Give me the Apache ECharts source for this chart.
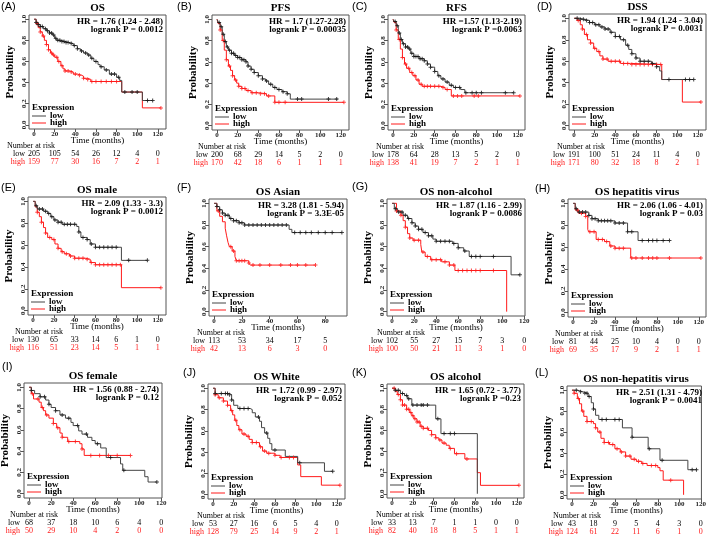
<!DOCTYPE html>
<html><head><meta charset="utf-8">
<script src="https://cdn.jsdelivr.net/npm/echarts@6/dist/echarts.min.js"></script>
<style>html,body{margin:0;padding:0;background:#fff}#c{width:709px;height:537px}</style>
</head><body><div id="c"></div>
<script>
// ---------------- DATA ----------------
const panelLabels = ['(A)','(B)','(C)','(D)','(E)','(F)','(G)','(H)','(I)','(J)','(K)','(L)'];
const titles = ['OS','PFS','RFS','DSS','OS male','OS Asian','OS non-alcohol','OS hepatitis virus','OS female','OS White','OS alcohol','OS non-hepatitis virus'];
const hrTexts = ['HR = 1.76 (1.24 - 2.48)','HR = 1.7 (1.27-2.28)','HR =1.57 (1.13-2.19)','HR = 1.94 (1.24 - 3.04)','HR = 2.09 (1.33 - 3.3)','HR = 3.28 (1.81 - 5.94)','HR = 1.87 (1.16 - 2.99)','HR = 2.06 (1.06 - 4.01)','HR = 1.56 (0.88 - 2.74)','HR = 1.72 (0.99 - 2.97)','HR = 1.65 (0.72 - 3.77)','HR = 2.51 (1.31 - 4.79)'];
const pTexts = ['logrank P = 0.0012','logrank P = 0.00035','logrank P =0.0063','logrank P = 0.0031','logrank P = 0.0012','logrank P = 3.3E-05','logrank P = 0.0086','logrank P = 0.03','logrank P = 0.12','logrank P = 0.052','logrank P =0.23','logrank P = 0.0041'];
const timeTicks = [0,20,40,60,80,100,120];
const timeTicksAsian = [0,20,40,60,80];
const probTicks = [0,0.2,0.4,0.6,0.8,1.0];
const maxFollowUp = [123,123,122,123,123,92,116,122,116,123,122,116];

const riskLow = [
  [205,105,54,26,12,4,0],[200,68,29,14,5,2,0],[178,64,28,13,5,2,0],[191,100,51,24,11,4,0],
  [130,65,33,14,6,1,0],[113,53,34,17,5],[102,55,27,15,7,3,0],[81,44,25,10,4,0,0],
  [68,37,18,10,6,4,0],[53,27,16,6,5,4,0],[33,13,7,1,1,0,0],[43,18,9,5,4,3,0]];
const riskHigh = [
  [159,77,30,16,7,2,1],[170,42,18,6,1,1,1],[138,41,19,7,2,1,1],[171,80,32,18,8,2,1],
  [116,51,23,14,5,1,1],[42,13,6,3,0],[100,50,21,11,3,1,0],[69,35,17,9,2,1,1],
  [50,29,10,4,2,0,0],[128,79,25,14,9,2,1],[82,40,18,8,5,1,1],[124,61,22,11,6,1,0]];

// KM step curves: [time, survival] at each drop
const lowA = [[0,1],[2,0.97],[4,0.95],[6,0.93],[9,0.91],[12,0.89],[15,0.87],[18,0.85],[20,0.82],[22,0.8],[26,0.79],[30,0.78],[34,0.77],[38,0.75],[42,0.72],[45,0.7],[48,0.68],[52,0.66],[55,0.63],[58,0.6],[62,0.57],[64,0.55],[68,0.52],[73,0.48],[80,0.45],[83,0.42],[85,0.31],[105,0.23],[115,0.23]];
const highA = [[0,1],[2,0.96],[4,0.92],[6,0.88],[8,0.84],[10,0.8],[12,0.76],[14,0.71],[16,0.68],[18,0.66],[20,0.64],[23,0.6],[26,0.56],[28,0.53],[30,0.51],[34,0.5],[38,0.48],[42,0.47],[46,0.46],[48,0.44],[52,0.43],[55,0.41],[85,0.31],[105,0.16],[123,0.16]];
const lowB = [[0,1],[1,0.97],[3,0.93],[5,0.86],[7,0.79],[9,0.74],[11,0.71],[14,0.68],[17,0.66],[20,0.64],[24,0.62],[28,0.6],[30,0.56],[33,0.53],[36,0.5],[40,0.47],[44,0.44],[47,0.42],[50,0.39],[54,0.36],[58,0.34],[63,0.32],[68,0.3],[71,0.25],[117,0.25]];
const highB = [[0,1],[1,0.96],[3,0.9],[5,0.8],[7,0.71],[9,0.62],[11,0.56],[13,0.52],[15,0.47],[17,0.43],[19,0.4],[21,0.37],[24,0.35],[28,0.33],[33,0.31],[40,0.3],[48,0.28],[56,0.22],[123,0.22]];
const lowC = [[0,1],[1,0.98],[3,0.94],[5,0.87],[7,0.81],[9,0.77],[12,0.74],[15,0.72],[17,0.68],[20,0.65],[25,0.63],[30,0.61],[33,0.58],[36,0.55],[40,0.51],[43,0.47],[46,0.44],[50,0.41],[54,0.38],[58,0.36],[65,0.34],[69,0.31],[116,0.31]];
const highC = [[0,1],[1,0.97],[3,0.9],[5,0.81],[7,0.72],[9,0.64],[11,0.58],[13,0.54],[16,0.5],[19,0.47],[22,0.43],[25,0.39],[28,0.37],[46,0.36],[50,0.34],[56,0.28],[122,0.28]];
const lowD = [[0,1],[5,0.99],[10,0.98],[15,0.96],[20,0.94],[25,0.92],[30,0.9],[35,0.87],[40,0.83],[45,0.8],[50,0.75],[53,0.71],[56,0.67],[60,0.63],[64,0.6],[75,0.58],[80,0.55],[83,0.51],[85,0.43],[116,0.43]];
const highD = [[0,1],[3,0.98],[6,0.94],[8,0.9],[10,0.85],[13,0.8],[16,0.77],[19,0.72],[22,0.69],[25,0.65],[28,0.62],[33,0.6],[45,0.58],[55,0.57],[85,0.43],[105,0.22],[123,0.22]];
const lowE = [[0,1],[2,0.96],[4,0.93],[10,0.91],[14,0.89],[17,0.86],[20,0.83],[24,0.81],[28,0.79],[42,0.77],[44,0.72],[46,0.67],[52,0.65],[55,0.61],[60,0.58],[85,0.46],[110,0.46]];
const highE = [[0,1],[2,0.95],[4,0.9],[6,0.86],[8,0.81],[10,0.76],[12,0.71],[14,0.67],[18,0.65],[21,0.61],[24,0.57],[27,0.54],[30,0.52],[35,0.5],[40,0.48],[50,0.47],[55,0.44],[60,0.42],[85,0.21],[123,0.21]];
const lowF = [[0,1],[2,0.97],[4,0.94],[6,0.91],[8,0.89],[11,0.86],[14,0.84],[18,0.82],[22,0.8],[54,0.76],[56,0.73],[92,0.73]];
const highF = [[0,1],[2,0.93],[4,0.88],[6,0.83],[8,0.77],[9,0.7],[10,0.64],[11,0.6],[13,0.56],[15,0.51],[16,0.47],[25,0.45],[26,0.43],[73,0.43]];
const lowG = [[0,1],[2,0.95],[5,0.92],[10,0.89],[14,0.86],[18,0.82],[21,0.79],[24,0.76],[28,0.73],[33,0.7],[37,0.67],[40,0.65],[55,0.63],[60,0.59],[65,0.56],[70,0.51],[108,0.34],[116,0.34]];
const highG = [[0,1],[4,0.93],[8,0.89],[10,0.84],[12,0.78],[14,0.72],[16,0.68],[19,0.66],[26,0.62],[27,0.55],[30,0.51],[35,0.48],[45,0.46],[52,0.43],[57,0.38],[104,0]];
const lowH = [[0,1],[2,0.95],[4,0.92],[15,0.89],[18,0.86],[24,0.84],[40,0.82],[52,0.74],[62,0.66],[92,0.66]];
const highH = [[0,1],[2,0.94],[5,0.91],[12,0.88],[14,0.76],[15,0.74],[22,0.67],[30,0.65],[35,0.61],[40,0.59],[55,0.5],[122,0.5]];
const lowI = [[0,1],[2,0.97],[5,0.94],[10,0.91],[15,0.88],[18,0.84],[20,0.81],[24,0.78],[28,0.74],[33,0.71],[38,0.67],[40,0.64],[45,0.59],[48,0.56],[53,0.53],[57,0.5],[60,0.47],[65,0.43],[70,0.34],[83,0.28],[85,0.22],[105,0.16],[108,0.11],[116,0.11]];
const highI = [[0,1],[2,0.94],[4,0.89],[9,0.86],[11,0.81],[13,0.78],[15,0.74],[18,0.71],[22,0.66],[25,0.62],[28,0.57],[30,0.53],[35,0.49],[46,0.47],[48,0.42],[50,0.36],[92,0.36]];
const lowJ = [[0,1],[2,0.95],[16,0.94],[18,0.89],[20,0.84],[24,0.81],[36,0.8],[38,0.77],[41,0.73],[45,0.69],[47,0.63],[50,0.58],[53,0.53],[55,0.48],[57,0.42],[70,0.36],[82,0.3],[108,0.22],[116,0.22]];
const highJ = [[0,1],[2,0.94],[5,0.91],[10,0.88],[14,0.84],[17,0.79],[19,0.75],[21,0.7],[23,0.65],[25,0.61],[28,0.57],[32,0.55],[35,0.52],[38,0.49],[45,0.45],[48,0.41],[52,0.39],[60,0.37],[65,0.35],[82,0.28],[85,0.17],[105,0.09],[123,0.09]];
const lowK = [[0,1],[3,0.98],[8,0.95],[12,0.93],[15,0.9],[19,0.84],[42,0.71],[47,0.57],[82,0]];
const highK = [[0,1],[3,0.97],[5,0.94],[8,0.89],[10,0.84],[14,0.8],[17,0.77],[19,0.74],[21,0.71],[24,0.68],[27,0.64],[30,0.62],[35,0.6],[38,0.56],[42,0.53],[45,0.51],[48,0.48],[52,0.46],[55,0.43],[60,0.38],[70,0.33],[82,0.2],[85,0.08],[122,0.08]];
const lowL = [[0,1],[5,0.985],[10,0.97],[15,0.94],[18,0.88],[20,0.82],[22,0.76],[25,0.72],[47,0.64],[56,0.55],[71,0.44],[82,0.33],[108,0.24],[116,0.24]];
const highL = [[0,1],[2,0.97],[5,0.92],[7,0.87],[9,0.8],[11,0.75],[14,0.7],[20,0.68],[22,0.64],[24,0.6],[27,0.54],[30,0.5],[35,0.48],[40,0.44],[45,0.41],[50,0.37],[55,0.34],[60,0.32],[65,0.3],[70,0.28],[80,0.26],[82,0.23],[85,0.14],[104,0]];

// censoring times
const censLowA = [2,4,6,8,11,13,15,17,19,21,23,25,27,29,31,33,36,39,42,46,50,53,56,60,65,70,75,78,82,88,95,100,110,115];
const censHighA = [3,6,9,12,14,17,19,22,24,27,30,33,36,40,44,48,52,56,60,65,70,75,80,123];
const censLowB = [2,4,6,8,10,12,14,16,18,20,22,24,26,28,30,33,36,40,44,48,52,56,60,64,68,78,82,108,116];
const censHighB = [3,6,9,12,15,18,21,24,27,30,34,38,42,46,50,56,60,66,123];
const censLowC = [2,4,6,8,10,12,14,16,18,20,22,24,26,28,30,33,36,40,44,48,52,56,60,64,70,76,80,85,108,116];
const censHighC = [3,6,9,12,15,18,21,24,27,30,33,36,40,44,48,52,58,62,66,78,82,122];
const censLowD = [3,6,9,12,15,18,21,24,27,30,33,36,40,44,48,52,56,60,64,68,72,76,80,92,108,112,116];
const censHighD = [4,8,12,16,20,24,28,32,36,40,44,48,52,56,60,64,68,72,76,80,84,123];
const censLowE = [3,6,9,12,15,18,21,24,27,30,33,36,40,44,48,52,56,60,64,68,72,76,80,92,110];
const censHighE = [4,8,12,16,20,24,28,32,36,40,44,48,52,56,60,64,68,72,76,80,84,123];
const censLowF = [2,4,6,8,10,12,14,16,18,20,22,25,28,31,34,37,40,43,46,49,52,58,62,66,70,75,80,85,92];
const censHighF = [3,12,14,16,18,20,22,25,28,33,40,48,55,60,66,73];
const censLowG = [3,6,9,12,15,18,21,24,27,30,33,36,40,44,48,52,56,60,66,72,76,80,92,116];
const censHighG = [4,8,12,16,20,24,28,32,36,40,44,48,52,56,60,64,68,72,76,80,92];
const censLowH = [3,6,9,12,15,18,21,24,27,30,33,36,40,44,48,52,56,66,72,76,80,86,92];
const censHighH = [4,8,12,16,20,24,28,32,36,40,44,48,56,60,66,72,76,80,92,122];
const censLowI = [2,10,14,18,24,30,36,44,52,62,74,86,116];
const censHighI = [3,8,12,16,22,26,30,36,42,48,56,64,72,80,92];
const censLowJ = [2,8,12,14,16,18,26,30,34,44,52,60,84,116];
const censHighJ = [2,6,10,14,18,22,26,30,34,38,42,46,50,54,60,66,74,78,123];
const censLowK = [3,6,10,14,16,20,24,28,30,34,44,50,56,60];
const censHighK = [2,6,8,10,12,14,16,18,20,22,24,26,28,30,34,38,42,46,50,56,62,72,122];
const censLowL = [4,8,12,14,16,20,28,32,40,44,56,72,84,112,116];
const censHighL = [2,6,10,14,18,22,26,30,34,38,42,46,50,54,58,62,66,74,78,92];

const lowCurves = [lowA,lowB,lowC,lowD,lowE,lowF,lowG,lowH,lowI,lowJ,lowK,lowL];
const highCurves = [highA,highB,highC,highD,highE,highF,highG,highH,highI,highJ,highK,highL];
const lowCens = [censLowA,censLowB,censLowC,censLowD,censLowE,censLowF,censLowG,censLowH,censLowI,censLowJ,censLowK,censLowL];
const highCens = [censHighA,censHighB,censHighC,censHighD,censHighE,censHighF,censHighG,censHighH,censHighI,censHighJ,censHighK,censHighL];

// ---------------- LAYOUT ----------------
// plot box [left, top, width, height]
const boxes = [
  [29,15,137,114],[212,15,137,115],[388,15,137,115],[569,14,137,116],
  [28,197,138,118],[209,199,138,117],[387,199,138,117],[568,199,138,118],
  [24,383,138,115],[208,384,137,115],[387,384,137,114],[567,386,138,113]];
const labelPos = [[1,7],[177,7],[352,7],[537,7],[1,188],[177,188],[352,187],[535,189],[2,367],[183,373],[352,373],[535,373]];
const narLeft = [7,198,376,557,15,197,377,555,10,197,376,553];

const SERIF = '"Liberation Serif","Times New Roman",serif';
const SANS = '"Liberation Sans",Arial,sans-serif';
const RED = '#ff1a1a';
const LOWC = '#444';
const PLUS = 'path://M3,0H5V3H8V5H5V8H3V5H0V3H3Z';

function survAt(curve, t) {
  let s = curve[0][1];
  for (const [x, y] of curve) { if (x <= t) s = y; else break; }
  return s;
}
function txt(x, y, text, font, fill, align, valign, rot) {
  return { type: 'text', x, y, rotation: rot || 0, silent: true, z: 100,
    style: { text, font, fill: fill || '#000', align: align || 'left', textAlign: align || 'left',
      verticalAlign: valign || 'middle', textVerticalAlign: valign || 'middle' } };
}

const grids = [], xAxes = [], yAxes = [], series = [], graphics = [];
boxes.forEach((b, i) => {
  const [l, t, w, h] = b;
  const bottom = t + h;
  const maxT = maxFollowUp[i];
  const xmin = -0.04 * maxT, xmax = 1.04 * maxT;
  const ticks = i === 5 ? timeTicksAsian : timeTicks;
  grids.push({ left: l, top: t, width: w, height: h, show: true, borderColor: '#555', borderWidth: 1, backgroundColor: 'transparent' });
  xAxes.push({ gridIndex: i, type: 'value', min: xmin, max: xmax, position: 'bottom',
    axisLine: { show: false, onZero: false }, splitLine: { show: false },
    axisTick: { show: true, length: 3, customValues: ticks, lineStyle: { color: '#555' } },
    axisLabel: { customValues: ticks, fontSize: 7, fontWeight: 'bold', fontFamily: SERIF, color: '#222', margin: 1.5 } });
  const riskAxis = (counts, color, rowY) => ({ gridIndex: i, type: 'value', min: xmin, max: xmax, position: 'bottom',
    offset: rowY - bottom - 4.5, axisLine: { show: false, onZero: false }, axisTick: { show: false }, splitLine: { show: false },
    axisLabel: { customValues: ticks, margin: 0, fontSize: 8, fontFamily: SERIF, color,
      formatter: v => String(counts[ticks.indexOf(v)]) } });
  const lowY = bottom + 25, highY = bottom + 33;
  xAxes.push(riskAxis(riskLow[i], '#000', lowY));
  xAxes.push(riskAxis(riskHigh[i], RED, highY));
  yAxes.push({ gridIndex: i, type: 'value', min: -0.04, max: 1.04,
    axisLine: { show: false, onZero: false }, splitLine: { show: false },
    axisTick: { show: true, length: 3, customValues: probTicks, lineStyle: { color: '#555' } },
    axisLabel: { customValues: probTicks, rotate: 90, fontSize: 7, fontWeight: 'bold', fontFamily: SERIF, color: '#222', margin: 1.5,
      formatter: v => v.toFixed(1) } });

  const xi = 3 * i;
  series.push({ type: 'line', xAxisIndex: xi, yAxisIndex: i, data: highCurves[i], step: 'end', showSymbol: false, symbol: 'none',
    lineStyle: { color: RED, width: 1 }, silent: true, z: 2 });
  series.push({ type: 'line', xAxisIndex: xi, yAxisIndex: i, data: lowCurves[i], step: 'end', showSymbol: false, symbol: 'none',
    lineStyle: { color: LOWC, width: 1 }, silent: true, z: 3 });
  series.push({ type: 'scatter', xAxisIndex: xi, yAxisIndex: i, data: highCens[i].map(c => [c, survAt(highCurves[i], c)]),
    symbol: PLUS, symbolSize: 4, itemStyle: { color: RED }, silent: true, z: 4 });
  series.push({ type: 'scatter', xAxisIndex: xi, yAxisIndex: i, data: lowCens[i].map(c => [c, survAt(lowCurves[i], c)]),
    symbol: PLUS, symbolSize: 4, itemStyle: { color: '#111' }, silent: true, z: 5 });

  // texts
  graphics.push(txt(labelPos[i][0], labelPos[i][1], panelLabels[i], '11px ' + SANS, '#000'));
  graphics.push(txt(l + w / 2, t - 7, titles[i], 'bold 11px ' + SERIF, '#000', 'center'));
  graphics.push(txt(l + w - 3, t + 6.5, hrTexts[i], 'bold 9px ' + SERIF, '#000', 'right'));
  graphics.push(txt(l + w - 3, t + 15, pTexts[i], 'bold 9px ' + SERIF, '#000', 'right'));
  graphics.push(txt(l - 19, t + h / 2, 'Probability', 'bold 11px ' + SERIF, '#000', 'center', 'middle', Math.PI / 2));
  graphics.push(txt(l + w / 2, bottom + 11.5, 'Time (months)', '9px ' + SERIF, '#000', 'center'));
  graphics.push(txt(narLeft[i], bottom + 17, 'Number at risk', '8px ' + SERIF, '#000', 'left'));
  graphics.push(txt(l - 4, lowY, 'low', '8px ' + SERIF, '#000', 'right'));
  graphics.push(txt(l - 4, highY, 'high', '8px ' + SERIF, RED, 'right'));
  // legend
  graphics.push(txt(l + 3, bottom - 21, 'Expression', 'bold 9px ' + SERIF, '#000', 'left'));
  graphics.push({ type: 'line', silent: true, z: 100, shape: { x1: l + 3, y1: bottom - 13, x2: l + 17, y2: bottom - 13 }, style: { stroke: LOWC, lineWidth: 1 } });
  graphics.push({ type: 'line', silent: true, z: 100, shape: { x1: l + 3, y1: bottom - 6, x2: l + 17, y2: bottom - 6 }, style: { stroke: RED, lineWidth: 1 } });
  graphics.push(txt(l + 21, bottom - 13, 'low', 'bold 9px ' + SERIF, '#000', 'left'));
  graphics.push(txt(l + 21, bottom - 6, 'high', 'bold 9px ' + SERIF, '#000', 'left'));
});

const chart = echarts.init(document.getElementById('c'), null, { renderer: 'canvas' });
chart.setOption({
  animation: false,
  backgroundColor: '#fff',
  grid: grids, xAxis: xAxes, yAxis: yAxes, series,
  graphic: { elements: graphics }
});
</script></body></html>
